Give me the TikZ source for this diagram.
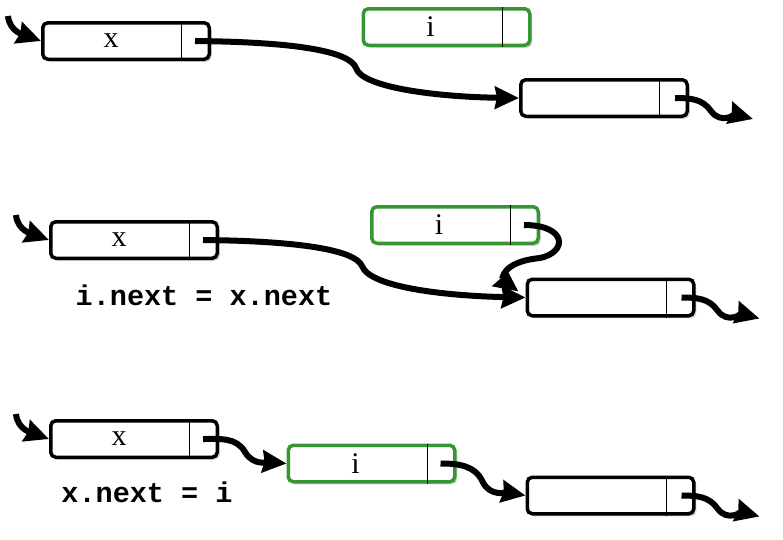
\documentclass[tikz,border=0pt]{standalone}
\usepackage{fontspec}
\setmainfont{Liberation Serif}
\setmonofont{Liberation Mono}
\usetikzlibrary{positioning}
\usetikzlibrary{arrows.meta}
\usetikzlibrary{shadows}
\definecolor{newgreen}{RGB}{55,150,50}

\tikzset{
	cell/.style = {draw = black, line width = 3.5pt, rounded corners = 5pt, fill = white, minimum width = 166.5pt, minimum height = 36.5pt, inner sep = 0pt, drop shadow = {opacity = 0.35, shadow xshift = 2.5pt, shadow yshift = -2.5pt}},
	newcell/.style = {cell, draw = newgreen},
	celltext/.style = {font = \fontsize{30}{32}\selectfont},
	code/.style = {font = \ttfamily\bfseries\fontsize{28.5}{30}\selectfont},
	divider/.style = {line width = 1pt},
	link/.style = {line width = 6pt, -{Stealth[length = 24pt, width = 22pt, inset = 2pt]}}
}

\begin{document}
\begin{tikzpicture}[x = 1pt, y = 1pt]
				\useasboundingbox (0, 0) rectangle (783, -539);
				% before
				\node[cell] (x1) at (126, -41) {};
				\node[newcell] (i1) at (446.5, -27) {};
				\node[cell] (n1) at (604, -98) {};
				% i.next = x.next
				\node[cell] (x2) at (134, -240) {};
				\node[newcell] (i2) at (455, -225) {};
				\node[cell] (n2) at (610.5, -297.5) {};
				\node[code] (lab2) at (204, -295) {i.next = x.next};
				% x.next = i
				\node[cell] (x3) at (134, -439) {};
				\node[newcell] (i3) at (371.5, -463.5) {};
				\node[cell] (n3) at (610.5, -495.5) {};
				\node[code] (lab3) at (147, -492) {x.next = i};
				\foreach \n in {x1, i1, n1, x2, i2, n2, x3, i3, n3}
					\draw[divider] ([xshift = -29.5pt]\n.north east) -- ([xshift = -29.5pt]\n.south east);
				\node[celltext] (x1t) at ([xshift = -15pt]x1.center) {x};
				\node[celltext] (i1t) at ([xshift = -16pt]i1.center) {i};
				\node[celltext] (x2t) at ([xshift = -15pt]x2.center) {x};
				\node[celltext] (i2t) at ([xshift = -16pt]i2.center) {i};
				\node[celltext] (x3t) at ([xshift = -15pt]x3.center) {x};
				\node[celltext] (i3t) at ([xshift = -16pt]i3.center) {i};
				% links
				\foreach \n in {x1, x2, x3}
					\draw[link] ([shift = {(-33pt, 25pt)}]\n.west) to[out = -85, in = 160] (\n.west);
				\foreach \n in {n1, n2, n3}
					\draw[link] ([xshift = -14pt]\n.east) to[out = 0, in = 125] ++(36, -13) to[out = -55, in = 165] ++(42, -8);
				\draw[link] ([xshift = -16pt]x1.east) .. controls (300, -42) and (350, -52) .. (356, -68) .. controls (362, -88) and (440, -97) .. (n1.west);
				\draw[link] ([xshift = -16pt]x2.east) .. controls (300, -241) and (355, -250) .. (362, -266) .. controls (370, -288) and (450, -296) .. (n2.west);
				\draw[link] ([xshift = -16pt]i2.east) .. controls (567, -225) and (568, -252) .. (540, -258) .. controls (500, -262) and (503, -280) .. ([shift = {(-7pt, 6pt)}]n2.west);
				\draw[link] ([xshift = -16pt]x3.east) to[out = 0, in = 120] ++(42, -13) to[out = -60, in = 175] (i3.west);
				\draw[link] ([xshift = -16pt]i3.east) to[out = 0, in = 115] ++(42, -18) to[out = -65, in = 170] (n3.west);
			\end{tikzpicture}
\end{document}
